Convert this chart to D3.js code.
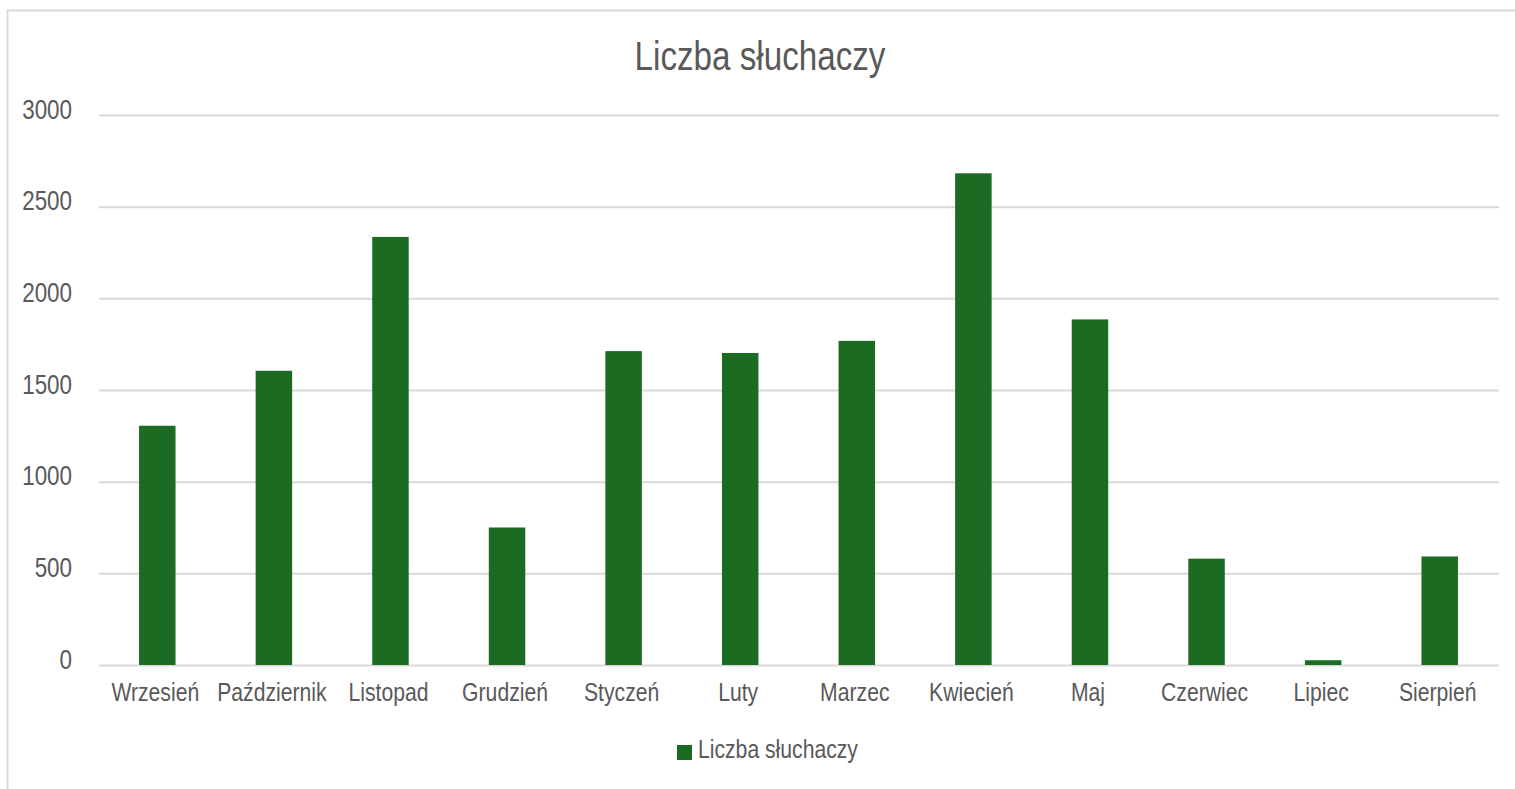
<!DOCTYPE html>
<html>
<head>
<meta charset="utf-8">
<script src="https://cdn.jsdelivr.net/npm/d3@7"></script>
<style>
  html, body { margin: 0; padding: 0; background: #fff; }
  svg { display: block; }
  text { font-family: "Liberation Sans Narrow", "Arial Narrow", "Liberation Sans", Arial, sans-serif; fill: #595959; }
</style>
</head>
<body>
<svg id="chart" width="1515" height="789"></svg>
<script>
const categories = ["Wrzesień", "Październik", "Listopad", "Grudzień", "Styczeń", "Luty", "Marzec", "Kwiecień", "Maj", "Czerwiec", "Lipiec", "Sierpień"];
const values = [1305, 1605, 2335, 750, 1712, 1702, 1768, 2682, 1885, 580, 26, 592];
const yTicks = [0, 500, 1000, 1500, 2000, 2500, 3000];
const seriesName = "Liczba słuchaczy";
const title = "Liczba słuchaczy";

const W = 1515, H = 789;
const SX = 0.83; // horizontal condensing to mimic a narrow typeface
const svg = d3.select("#chart");
const plot = { left: 99, right: 1499, top: 115, bottom: 665 };
const barColor = "#1b6b23";

// chart border
svg.append("rect").attr("x", 7.5).attr("y", 10.5).attr("width", W + 10).attr("height", H + 10)
  .attr("fill", "none").attr("stroke", "#d9d9d9").attr("stroke-width", 2);

const x = d3.scaleBand().domain(categories).range([plot.left, plot.right - 1]).paddingInner(0.687).paddingOuter(0.3435);
const y = d3.scaleLinear().domain([0, 3000]).range([plot.bottom, plot.top]);

// gridlines + y labels
const yAxis = d3.axisLeft(y).tickValues(yTicks).tickSize(-(plot.right - plot.left)).tickFormat(d3.format("d"));
const gy = svg.append("g").attr("transform", `translate(${plot.left},0)`).call(yAxis);
gy.select(".domain").remove();
gy.selectAll(".tick line").attr("stroke", "#d9d9d9").attr("stroke-width", 2);
gy.selectAll(".tick text").attr("x", -27 / SX).attr("y", 0).attr("dy", "0.12em")
  .attr("transform", `scale(${SX},1)`)
  .style("font-size", "27px").style("fill", "#595959");

// bars
svg.append("g").selectAll("rect").data(values).join("rect")
  .attr("x", (d, i) => x(categories[i]))
  .attr("y", d => y(d))
  .attr("width", x.bandwidth())
  .attr("height", d => y(0) - y(d))
  .attr("fill", barColor);

// x axis labels
const xAxis = d3.axisBottom(x).tickSize(0).tickPadding(0);
const gx = svg.append("g").attr("transform", `translate(-2,${plot.bottom})`).call(xAxis);
gx.select(".domain").remove();
gx.selectAll(".tick text").attr("y", 36).attr("dy", 0)
  .attr("transform", `scale(${SX},1)`)
  .style("font-size", "25.5px").style("fill", "#595959");

// title
svg.append("text").attr("transform", `translate(760,70) scale(${SX},1)`).attr("text-anchor", "middle")
  .style("font-size", "40px").text(title);

// legend
svg.append("rect").attr("x", 677).attr("y", 745).attr("width", 15).attr("height", 15).attr("fill", barColor);
svg.append("text").attr("transform", `translate(698,758) scale(${SX},1)`).style("font-size", "25.5px").text(seriesName);
</script>
</body>
</html>
